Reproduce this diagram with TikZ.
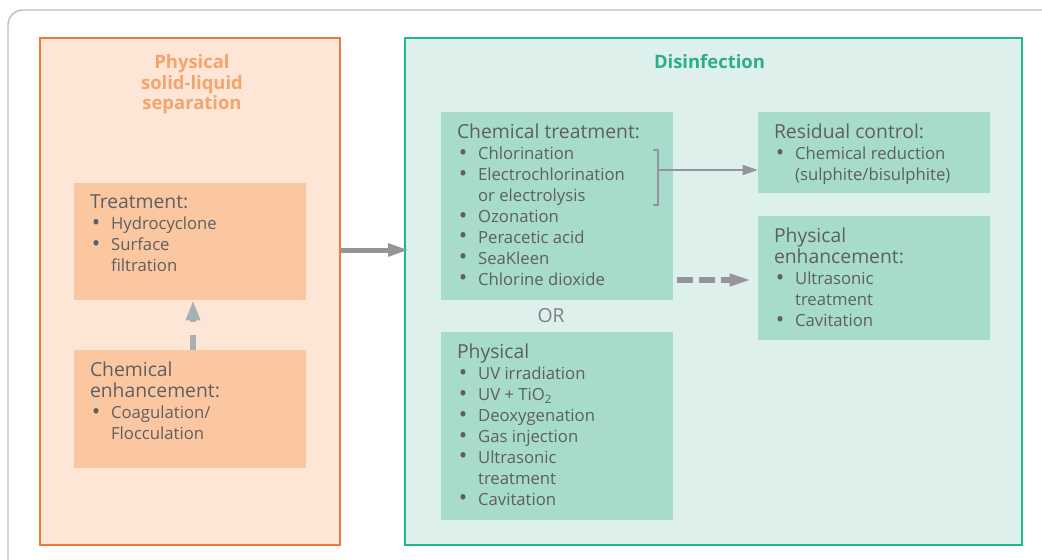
\documentclass[tikz,border=0pt]{standalone}
\usepackage{fontspec}
\setmainfont{Open Sans}
\usetikzlibrary{arrows.meta,positioning}
\definecolor{framegray}{HTML}{BDBDBD}
\definecolor{sepline}{HTML}{F07A3A}
\definecolor{septitle}{HTML}{F5A46E}
\definecolor{sepfill}{HTML}{FEE6D6}
\definecolor{sepbox}{HTML}{FBC7A1}
\definecolor{disline}{HTML}{1DB88F}
\definecolor{distitle}{HTML}{2BAE8B}
\definecolor{disfill}{HTML}{DDF0EB}
\definecolor{disbox}{HTML}{A7DBCB}
\definecolor{txtgray}{HTML}{5E5F61}
\definecolor{orgray}{HTML}{7E8083}
\definecolor{arrgray}{HTML}{939598}
\definecolor{dashgray}{HTML}{A8B0B4}
\newcommand{\itm}{\makebox[12pt][l]{\hspace{1pt}\raisebox{-0.4pt}{\scalebox{1.35}{\textbullet}}}}
\newcommand{\ind}{\hspace*{12pt}}
\newcommand{\hd}[1]{{\fontsize{11}{11.9}\selectfont #1}}
\begin{document}
\begin{tikzpicture}[x=0.02cm,y=-0.02cm,
  txt/.style={anchor=north west,inner sep=0pt,align=left,text=txtgray,font=\fontsize{9.5}{11.9}\selectfont},
  ttl/.style={anchor=north,inner sep=0pt,align=center,font=\fontsize{10.5}{11.7}\selectfont\bfseries},
  lbox/.style={fill=sepbox,inner sep=0pt,minimum width=4.64cm},
  dbox/.style={fill=disbox,inner sep=0pt,minimum width=4.64cm}]
\useasboundingbox (0,0) rectangle (1042,559);
\draw[framegray,line width=0.8pt,rounded corners=0.3cm] (8,10) rectangle (1090,610);
\path (190,291.5) node[draw=sepline,line width=0.7pt,fill=sepfill,inner sep=0pt,minimum width=6cm,minimum height=10.14cm] (sep) {}
		(713.5,291.5) node[draw=disline,line width=1pt,fill=disfill,inner sep=0pt,minimum width=12.34cm,minimum height=10.14cm] (dis) {}
		(190,241.5) node[lbox,minimum height=2.34cm] (treat) {}
		(190,409) node[lbox,minimum height=2.36cm] (chemenh) {}
		(557,206) node[dbox,minimum height=3.76cm] (chemtr) {}
		(874,152.5) node[dbox,minimum height=1.62cm] (resid) {}
		(874,278) node[dbox,minimum height=2.48cm] (physenh) {}
		(557,426) node[dbox,minimum height=3.76cm] (phys) {}
		;
\node[ttl,text=septitle] (septtl) at ([shift={(2,-0.34cm)}]sep.north) {Physical\\solid-liquid\\separation};
\node[ttl,text=distitle] (distl) at ([shift={(-4,-0.34cm)}]dis.north) {Disinfection};
\node[txt] (treattxt) at ([shift={(16,12)}]treat.north west) {\hd{Treatment:}\\\itm Hydrocyclone\\\itm Surface\\\ind filtration};
\node[txt] (chemenhtxt) at ([shift={(16,12)}]chemenh.north west) {\hd{Chemical}\\\hd{enhancement:}\\\itm Coagulation/\\\ind Flocculation};
\node[txt] (chemtrtxt) at ([shift={(16,12)}]chemtr.north west) {\hd{Chemical treatment:}\\\itm Chlorination\\\itm Electrochlorination\\\ind or electrolysis\\\itm Ozonation\\\itm Peracetic acid\\\itm SeaKleen\\\itm Chlorine dioxide};
\node[txt] (residtxt) at ([shift={(16,12)}]resid.north west) {\hd{Residual control:}\\\itm Chemical reduction\\\ind (sulphite/bisulphite)};
\node[txt] (physenhtxt) at ([shift={(16,12)}]physenh.north west) {\hd{Physical}\\\hd{enhancement:}\\\itm Ultrasonic\\\ind treatment\\\itm Cavitation};
\node[txt] (phystxt) at ([shift={(16,12)}]phys.north west) {\hd{Physical}\\\itm UV irradiation\\\itm UV + TiO\textsubscript{2}\\\itm Deoxygenation\\\itm Gas injection\\\itm Ultrasonic\\\ind treatment\\\itm Cavitation};
\node[txt,anchor=center,text=orgray] (or) at (551,316) {\hd{OR}};

\coordinate (mainy) at (0,250);
\coordinate (brk) at (658,170);
\coordinate (dashy) at (0,280);
\draw[arrgray,line width=0.1cm,-{Triangle[length=0.42cm,width=0.24cm]}] (sep.east |- mainy) -- ([xshift=0.1cm]dis.west |- mainy);
\draw[dashgray,line width=0.12cm,dash pattern=on 0.3cm off 0.25cm,-{Triangle[length=0.4cm,width=0.27cm]}] ([xshift=0.06cm]chemenh.north) -- ([xshift=0.06cm]treat.south);
\draw[arrgray,line width=0.04cm] (653,150) -- (658,150) -- (658,205) -- (653,205);
\draw[arrgray,line width=0.04cm,-{Triangle[length=0.3cm,width=0.2cm]}] (brk) -- (resid.west |- brk);
\draw[arrgray,line width=0.12cm,dash pattern=on 0.32cm off 0.12cm,-{Triangle[length=0.46cm,width=0.22cm]}] ([xshift=0.08cm]chemtr.east |- dashy) -- ([xshift=-0.1cm]physenh.west |- dashy);
\end{tikzpicture}
\end{document}
